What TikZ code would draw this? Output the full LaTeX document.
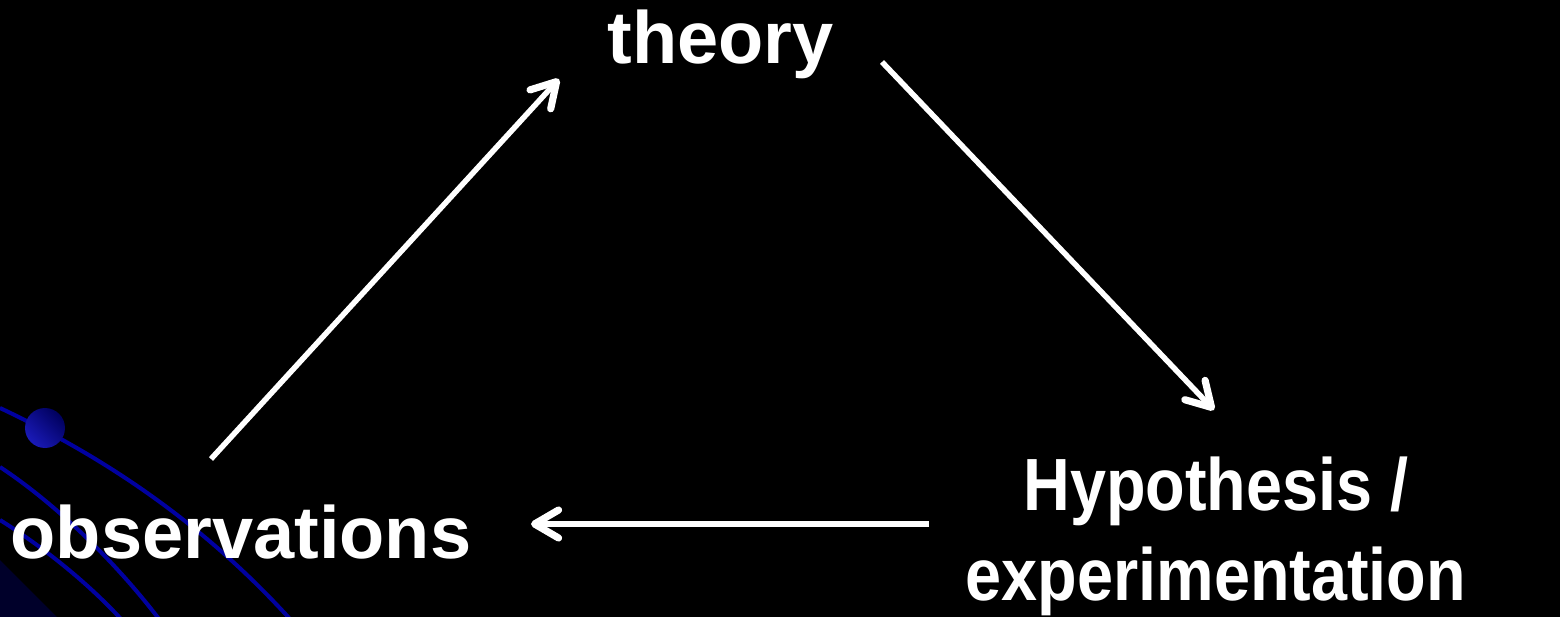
\documentclass[tikz,border=0pt]{standalone}
\usepackage{fontspec}
\setmainfont{Liberation Sans}
\usetikzlibrary{arrows.meta}
\definecolor{deco}{HTML}{0000A0}
\definecolor{balllight}{HTML}{1A1AB8}
\definecolor{balldark}{HTML}{00005E}
\definecolor{cornerdark}{HTML}{00002A}
\tikzset{
  label/.style={text=white, inner sep=0pt, anchor=base, font=\bfseries\fontsize{74pt}{90pt}\selectfont},
  flow/.style={draw=white, line width=5.5pt, -{Straight Barb[length=24pt,width=28pt,line width=0pt 1.3,round]}},
  decoline/.style={draw=deco, line width=4pt},
}
\begin{document}
\begin{tikzpicture}[x=1pt,y=-1pt]
\fill[black] (0,0) rectangle (1560,617);
\useasboundingbox (0,0) rectangle (1560,617);
% decoration
\fill[cornerdark] (0,560) .. controls (20,580) and (40,600) .. (57,617) -- (0,617) -- cycle;
\draw[decoline] (0,408) .. controls (100,455) and (200,520) .. (290,619);
\draw[decoline] (0,467) .. controls (50,500) and (110,555) .. (159,619);
\draw[decoline] (0,520) .. controls (40,545) and (85,580) .. (121,619);
\shade[bottom color=balllight, top color=balldark, shading angle=-45] (45,428) circle[radius=20];
% labels
\node[label] (th) at (720.5,64) {theory};
\node[label] (obs) at (241,558) {observations};
\node[label] (hyp) at (1216,600) {\scalebox{0.875}[1]{\begin{tabular}[b]{@{}c@{}}Hypothesis /\\experimentation\end{tabular}}};
% connector ends
\coordinate (obsout) at (211,459);
\coordinate (thin) at (559,79);
\coordinate (thout) at (882,62);
\coordinate (hypin) at (1214,410);
\coordinate (hypout) at (929,524);
\coordinate (obsin) at (531,524);
\draw[flow] (obsout) -- (thin);
\draw[flow] (thout) -- (hypin);
\draw[flow] (hypout) -- (obsin);
\end{tikzpicture}
\end{document}
